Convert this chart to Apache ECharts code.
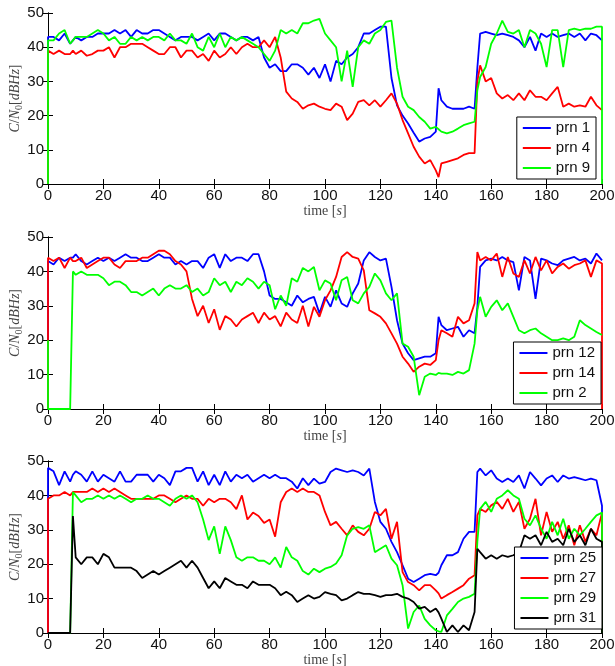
<!DOCTYPE html>
<html><head><meta charset="utf-8">
<script src="https://cdn.jsdelivr.net/npm/echarts@6/dist/echarts.min.js"></script>
<style>html,body{margin:0;padding:0;background:#fff}#c{width:615px;height:666px}</style>
</head><body><div id="c"></div>
<script>
// time grid [s]
const time = [0,0,2,4,6,8,9,
10,12,14,16,18,20,22,24,26,28,30,32,34,36,38,40,42,44,46,48,
50,52,54,56,58,60,62,64,66,68,70,72,74,76,78,80,82,84,86,88,
90,92,94,96,98,100,102,104,106,108,110,112,114,116,118,120,122,124,126,128,
130,132,134,136,138,140,141,142,144,146,148,150,152,154,
155,156,158,160,162,164,166,168,170,172,174,176,178,180,182,184,186,188,190,192,194,196,198,200,200];

const xTicks = [0,20,40,60,80,100,120,140,160,180,200];
const yTicks = [0,10,20,30,40,50];

// panel 1
const prn1 = [0,43,43,42,44,41,42,
43,42,43,43,44,44,44,45,44,45,43,45,44,44,45,45,44,43,42,43,
43,43,42,43,44,42,44,44,43,42,43,43,42,43,37,34,35,33,33,35,
35,34,32,34,31,35,30,36,35,37,38,40,44,44,45,46,46,31,23,20,
17.7,15,12.4,13.3,13.8,15.3,28,24.5,22.6,22,22,22,22.6,22,
34,44,44.5,44,43.5,44,43.5,43,42,40,43,39,44,43,44,43,43.5,44,43,44,42,44,43.5,42,42];
const prn4 = [0,39,38,39,38,38,39,
38,39,37.5,38,39,39,40,37,40,40,41,41,41,40,39,38,38,40,40,37,
39,39,37,38,36,39,37,38,40,38,40,41,40,40,42,40,43,37,27,25,
24,22,23,23.5,22.6,22,21.6,23.5,22.6,18.7,20.6,24,24.5,23,24.5,22.6,24.5,26.5,23.5,18.7,
14.8,10.9,8,6,7,4,2,6,6.5,7,7.5,8.5,9,9,
30,34.7,30,31,26.5,25,26,24.5,26.5,24.5,27.4,25.5,25.5,24.5,26.5,28.4,22.6,23.5,22.6,23,22.6,25.5,23,21.6,21.6];
const prn9 = [0,42,42,44,45,41,42,
43,43,43,44,45,44,42,43,41,41,43,42,43,42,43,43,42,44,42,42,
41,44,40,39,43,40,44,40,43,42,43,42,41,40,38,36,39,45,44,45,
44,47,47,47.8,48.3,44,42,40,30,39,28.4,40,42,41,44,45,47.4,47.8,34,25.5,
22.6,21.6,19.6,18.2,16.2,16.7,16,15.3,14.8,15.3,16.2,17.2,17.7,18.2,
27.4,31.3,34.2,41,44,47.8,44.5,44,45,40,45,44,41,34.2,45,45,34.2,45,45.4,45,45.4,45.4,46,46,0];

// panel 2
const prn12 = [0,43,42,44,43,44,44,
45,43,42,43,44,43,44,43,44,45,44,44,43,43,44,45,44,44,42,43,
42,43,43,41,44,45,41,45,43,44,44,43,45,45,40,33,32,32,31,30,
33,31,32,32.6,27.8,32.6,29.7,34.5,30.7,29.7,33.6,36.5,43.2,45.6,44.2,43.2,43.7,35.5,25.8,19,
16.2,14.2,14.7,15.2,15.2,16.2,26.8,24.4,22.9,23.4,23.9,21,22.9,22,
29.7,41.3,43.2,43.7,43.2,44.2,43.2,42.7,34.5,44.2,43.2,32,43.7,43.2,42.3,41.8,43.2,43.7,44.2,43.2,43.7,42.3,45.2,43.2,43.2];
const prn14 = [0,44,43,44,41,44,43,
43,44,41,42,43,44,44,42,41,43,43,43,44,44,45,46,46,45,43,42,
40,32,27,30,25,29,23,27,26,24,26,27,28,25,28,26,27,24,28,26,
25,30,24,29.7,26.8,31.6,34.5,38.4,44.2,45.6,44.2,43.7,40.3,28.7,27.8,26.8,24.9,22,19,15.2,
13.2,10.8,12.3,13.2,12.8,14.2,20,22.9,22,21,26.8,24.9,25.8,30.7,
45.6,43.2,44.2,43.2,45.2,38.4,44.2,39.4,38.4,43.2,39.4,44.2,40.3,43.2,39.4,41.3,42.3,40.8,41.8,42.3,43.2,38.4,43.2,42.3,0];
const prn2 = [20,0,0,0,0,0,40,
39,40,39,39,39,38,36,37,37,36,34,34,33,34,35,33,35,36,35,35,
36,34,35,33,34,38,36,37,34,37,36,38,37,35,37,36,29,33,30,38,
37,41,40,41.3,34.5,37.4,36.5,31.6,37.4,38.4,31.6,30.7,33.6,35.5,39.4,37.4,33.6,31.6,33.6,19,
18.1,15.2,4,9.4,10.3,9.9,10.5,10.3,10.3,9.9,10.8,10.3,11.3,19,
28.7,32.6,26.8,29.7,31.6,28.7,30.7,26.8,22.9,22,22.9,23.4,22,21,20,20,20.5,20,21,25.8,24.4,23.4,22.4,21.5,21.5];

// panel 3
const prn25 = [0,48,47,43,47,44,46,
47,46,44,47,44,46,45,44,47,44,44,46,46,46,44,46,45,43,47,47,
48,48,44,47,43,46,43,47,44,46,45,46,44,45,46,45,46,45,45,44,
42,45,43,44.9,43.4,43.9,46.8,47.8,47.3,46.8,47.3,46.8,45.8,47.8,38.1,32.3,30.3,26.5,23.5,19.7,
15.8,14.8,15.8,16.8,17.2,16.8,17.5,19.7,22.6,22.6,23.5,27.4,29.4,29.4,
46.8,47.8,45.8,47.3,44.9,43.9,44.9,43.9,45.8,42,46.8,44.9,42.9,44.9,45.8,43.9,45.8,44.9,45.3,44.9,44.4,44.9,44.4,37,0];
const prn27 = [0,39,40,40,41,40,41,
41,41,41,42,41,42,41,42,41,40,39,39,39,39,39,40,40,39,38,39,
40,39,39,37,39,38,39,39,38,36,40,33,35,34,32,33,28,38,41,42,
41,42,41,41,40,35.2,31.3,32.3,30.3,28.4,31.3,29.4,28.4,30.3,35.2,34.2,36.1,27.4,32.3,17.7,
14.8,13.9,12.4,13.9,13.9,12.4,11.5,10,11,11.9,12.9,13.9,15.8,16.8,
34.2,36.1,35.2,37.1,38.1,36.1,39,35.2,38.1,30.3,33.2,39,28.4,35.2,29.4,32.3,27.4,31.3,25.5,31.3,26.5,30.3,28.4,35,0];
const prn29 = [0,0,0,0,0,0,41,
40,38,39,39,40,39,40,39,40,39,38,39,39,40,39,39,38,37,39,40,
39,40,38,33,27,31,23,31,27,22,21,22,22,21,21,20,22,19,25,22,
21,18,17,18.7,17.7,18.7,19.2,20.2,22.6,28.4,30.3,30.8,30.3,31.3,23.5,24.5,25.5,21.6,19.7,13.9,
1.3,6.1,8,4.1,2.2,0.8,0.5,0.3,5.1,7,9,10,10.5,11.4,
26.5,36.1,38.1,35.2,39,40,41.5,40,39,33.2,31.3,34.2,30.3,27.4,32.3,28.4,33.2,27.4,30.3,28.4,30.3,32.3,34.2,35,0];
const prn31 = [0,0,0,0,0,0,34,
22,20,22,22,20,23,22,19,19,19,19,18,16,17,18,17,18,19,20,21,
19,21,19,16,13,15,13,16,15,14,14,13,15,14,14,14,13,11,12,11,
9,10,11,10,10.5,11.9,11.4,11,9.5,10,11,11.9,11.4,11.4,11,10.5,11,11,11.4,10.5,
10,9,7.1,7.6,6.1,7.1,6,4.2,0.3,2.2,0.3,2.2,0.8,6.1,
24.5,23.5,21.6,22.6,21.6,22.6,22.1,22.6,23.5,28.4,27.4,28.4,25.5,29.4,26.5,27.4,25.5,30.3,26.5,28.4,25.5,30.3,27.4,26.5,0];

const panels = [
  {names:['prn 1','prn 4','prn 9'], data:[prn1,prn4,prn9], colors:['#0000ff','#ff0000','#00ff00']},
  {names:['prn 12','prn 14','prn 2'], data:[prn12,prn14,prn2], colors:['#0000ff','#ff0000','#00ff00']},
  {names:['prn 25','prn 27','prn 29','prn 31'], data:[prn25,prn27,prn29,prn31], colors:['#0000ff','#ff0000','#00ff00','#000000']}
];

const gridTops = [13, 237, 461];
const gridHeights = [171, 172, 172];
const legendTops = [117, 342, 547];
const legendRights = [19, 14, 13];

const SANS = 'Liberation Sans, Arial, sans-serif';
const SERIF = 'Liberation Serif, Times New Roman, serif';
const axisLine = {show:true, lineStyle:{color:'#000', width:1}};
const tick = {show:true, inside:true, length:5, lineStyle:{color:'#000', width:1}};

const grid = [], xAxis = [], yAxis = [], series = [], legend = [];
panels.forEach((p, g) => {
  grid.push({left:48, width:554, top:gridTops[g], height:gridHeights[g], containLabel:false, outerBoundsMode:'none'});
  xAxis.push({gridIndex:g, type:'value', min:xTicks[0], max:xTicks[xTicks.length-1], interval:20, position:'bottom',
    axisLine, axisTick:tick, splitLine:{show:false},
    axisLabel:{color:'#111', fontSize:15, fontFamily:SANS, margin:4, formatter:v=>xTicks.includes(v)?String(v):''},
    name:'time [{i|s}]', nameLocation:'middle', nameGap:20, nameMoveOverlap:false,
    nameTextStyle:{fontFamily:SERIF, fontSize:14, color:'#444', verticalAlign:'top',
      rich:{i:{fontFamily:SERIF, fontSize:14, fontStyle:'italic', color:'#444'}}}});
  xAxis.push({gridIndex:g, type:'value', min:0, max:200, interval:20, position:'top',
    axisLine, axisTick:tick, splitLine:{show:false}, axisLabel:{show:false}});
  yAxis.push({gridIndex:g, type:'value', min:yTicks[0], max:yTicks[yTicks.length-1], interval:10, position:'left',
    axisLine, axisTick:tick, splitLine:{show:false},
    axisLabel:{color:'#111', fontSize:15, fontFamily:SANS, margin:4},
    name:'{i|C}/{i|N}{s|0}[{i|dBHz}]', nameLocation:'middle', nameGap:24, nameMoveOverlap:false,
    nameTextStyle:{fontFamily:SERIF, fontSize:14, color:'#444', lineHeight:18,
      rich:{i:{fontFamily:SERIF, fontSize:14, fontStyle:'italic', color:'#444', lineHeight:18},
            s:{fontFamily:SERIF, fontSize:10, color:'#444', lineHeight:10, verticalAlign:'bottom'}}}});
  yAxis.push({gridIndex:g, type:'value', min:0, max:50, interval:10, position:'right',
    axisLine, axisTick:tick, splitLine:{show:false}, axisLabel:{show:false}});
  p.data.forEach((vals, k) => {
    series.push({name:p.names[k], type:'line', xAxisIndex:2*g, yAxisIndex:2*g,
      data: time.map((t,i)=>[t, vals[i]]), showSymbol:false, symbol:'none',
      lineStyle:{color:p.colors[k], width:1.8}, itemStyle:{color:p.colors[k]}, clip:true, z:2+k});
  });
  legend.push({data:p.names, orient:'vertical', right:legendRights[g], top:legendTops[g],
    backgroundColor:'#fff', borderColor:'#000', borderWidth:1, borderRadius:0,
    padding:[3,6,3,6], itemGap:4, itemWidth:28, itemHeight:2, icon:'rect',
    textStyle:{fontFamily:SANS, fontSize:15, color:'#111', lineHeight:16}, selectedMode:false, z:10});
});

const chart = echarts.init(document.getElementById('c'), null, {renderer:'canvas'});
chart.setOption({animation:false, backgroundColor:'#fff', grid, xAxis, yAxis, series, legend});
</script></body></html>
